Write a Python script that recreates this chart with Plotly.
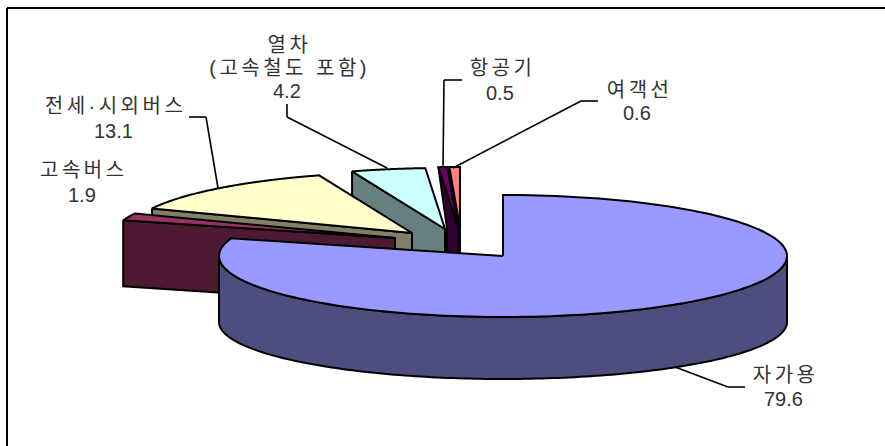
import math
import plotly.graph_objects as go

# --- data ---
categories = ["자가용", "고속버스", "전세·시외버스", "열차<br>(고속철도 포함)", "항공기", "여객선"]
values = [79.6, 1.9, 13.1, 4.2, 0.5, 0.6]

# --- colours (top face, side face) ---
top_colors = ["#9999FF", "#993366", "#FFFFCC", "#CCFFFF", "#660066", "#FF8080"]
side_colors = ["#4D4D80", "#4D1933", "#808066", "#668080", "#330033", "#804040"]

# --- projection and explosion ---
CX, CY, RX, RY, DEPTH, RY_BOTTOM = 503, 256, 284, 61, 66, 57
explode_x = [0, -108, -91, -58, -45, -43]
explode_y = [0, -18, -23, -27, -28, -28]
inner_shift = [0, 0, 0, 0, 11, 0]
draw_order = [5, 4, 3, 2, 1, 0]

# label positions: (x, first line y, value line y), and leader lines
label_pos = [(783, 375, 399), (82, 170, 195), (113, 106, 131),
             (287, 45, 91), (500, 68, 93), (637, 90, 113)]
leaders = [
    [(675, 367), (728, 387), (745, 387)],
    [],
    [(218, 188), (206, 117), (189, 117)],
    [(387, 168), (287, 117), (287, 104)],
    [(443, 168), (444, 80), (462, 80)],
    [(453, 168), (581, 101), (598, 101)],
]

total = sum(values)
spans = []
a = 0.0
for v in values:
    b = a + v / total * 2 * math.pi
    spans.append((a, b))
    a = b


def pt(ang, px, py):
    return px + RX * math.sin(ang), py - RY * math.cos(ang)


def arc(a0, a1, px, py, n=160):
    return [pt(a0 + (a1 - a0) * i / n, px, py) for i in range(n + 1)]


def poly(fig, pts, fill):
    fig.add_trace(go.Scatter(
        x=[p[0] for p in pts] + [pts[0][0]],
        y=[p[1] for p in pts] + [pts[0][1]],
        mode="lines", fill="toself", fillcolor=fill,
        line=dict(color="#000000", width=2, simplify=False),
        hoverinfo="skip", showlegend=False))


fig = go.Figure()
for i in draw_order:
    a0, a1 = spans[i]
    px, py = CX + explode_x[i], CY + explode_y[i]
    if i == 0:
        wall = arc(math.pi / 2, 3 * math.pi / 2, px, py)
        lower = [(x, py + (y - py) * RY_BOTTOM / RY + DEPTH) for x, y in reversed(wall)]
        poly(fig, wall + lower, side_colors[i])
    else:
        A = pt(a0, px, py)
        if inner_shift[i]:
            s = inner_shift[i]
            poly(fig, [A, (px - s, py), (px - s, py + DEPTH), (px, py + DEPTH), (px, py)], side_colors[i])
        else:
            poly(fig, [A, (A[0], A[1] + DEPTH), (px, py + DEPTH), (px, py)], side_colors[i])
    poly(fig, [(px, py)] + arc(a0, a1, px, py), top_colors[i])

shapes = [
    dict(type="line", xref="x", yref="y", x0=7, y0=8, x1=885, y1=8, line=dict(color="#000", width=2)),
    dict(type="line", xref="x", yref="y", x0=7, y0=8, x1=7, y1=446, line=dict(color="#000", width=2)),
]
for seg in leaders:
    for (x0, y0), (x1, y1) in zip(seg, seg[1:]):
        shapes.append(dict(type="line", xref="x", yref="y", x0=x0, y0=y0, x1=x1, y1=y1,
                           line=dict(color="#000", width=1.6)))

FONT = dict(family="Liberation Sans, Noto Sans CJK KR", size=20, color="#333333")
annotations = []
for cat, v, (x, y1, y2) in zip(categories, values, label_pos):
    lines = cat.split("<br>")
    for j, line in enumerate(lines):
        yy = y1 + j * (y2 - y1) / len(lines)
        annotations.append(dict(x=x + 2, y=yy, text=line, showarrow=False, xref="x", yref="y",
                                xanchor="center", yanchor="middle", font=FONT))
    annotations.append(dict(x=x, y=y2, text=f"{v:.1f}", showarrow=False, xref="x", yref="y",
                            xanchor="center", yanchor="middle", font=FONT))

fig.update_layout(
    width=885, height=446, margin=dict(l=0, r=0, t=0, b=0),
    paper_bgcolor="#FFFFFF", plot_bgcolor="#FFFFFF",
    xaxis=dict(range=[0, 885], visible=False, fixedrange=True),
    yaxis=dict(range=[446, 0], visible=False, fixedrange=True),
    shapes=shapes, annotations=annotations, showlegend=False,
)
post = """
document.body.style.margin = '0';
document.body.style.overflow = 'hidden';
document.querySelectorAll('.annotation-text').forEach(function (t) {
  if (/[^0-9.]/.test(t.textContent)) { t.style.letterSpacing = '3.5px'; }
});
"""
fig.write_html("out.html", config={"displayModeBar": False}, post_script=post)
